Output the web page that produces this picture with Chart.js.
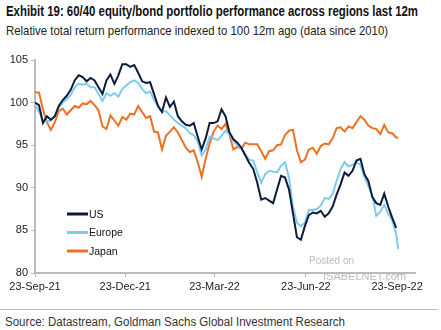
<!DOCTYPE html>
<html>
<head>
<meta charset="utf-8">
<script src="https://cdn.jsdelivr.net/npm/chart.js@4.4.1/dist/chart.umd.min.js"></script>
<style>
  body { margin: 0; background: #fff; }
  #wrap { position: relative; width: 441px; height: 330px; overflow: hidden; font-family: "Liberation Sans", Arial, sans-serif; }
  .fit { position: absolute; white-space: nowrap; transform-origin: 0 0; }
  #title { left: 6px; top: 3px; font-size: 14.5px; font-weight: bold; color: #111; }
  #subtitle { left: 6px; top: 23px; font-size: 13.5px; color: #222; }
  #chartBox { position: absolute; left: 0; top: 50px; width: 441px; height: 250px; }
  #rule { position: absolute; left: 0; top: 309px; width: 438px; height: 1px; background: #bbb; }
  #source { left: 5px; top: 315px; font-size: 12.5px; color: #333; }
  .wm { position: absolute; color: #b8bcc4; font-family: Arial, "Liberation Sans", sans-serif; white-space: nowrap; }
</style>
</head>
<body>
<div id="wrap">
  <div id="title" class="fit" data-w="412">Exhibit 19: 60/40 equity/bond portfolio performance across regions last 12m</div>
  <div id="subtitle" class="fit" data-w="382">Relative total return performance indexed to 100 12m ago (data since 2010)</div>
  <div id="chartBox"><canvas id="perfChart"></canvas></div>
  <div class="wm" style="left:309px; top:255px; font-size:10px;">Posted on</div>
  <div class="wm" style="left:323px; top:270px; font-size:11px;">ISABELNET.com</div>
  <div id="rule"></div>
  <div id="source" class="fit" data-w="340">Source: Datastream, Goldman Sachs Global Investment Research</div>
</div>
<script>
// squeeze header/footer text to the narrow width of the original
document.querySelectorAll('.fit').forEach(el => {
  const w = el.getBoundingClientRect().width;
  el.style.transform = 'scaleX(' + (el.dataset.w / w) + ')';
});

// days since 23-Sep-21, sampled roughly every 4 days
const days = [0, 4, 8, 12, 16, 20, 24, 28, 32, 36, 40, 44, 48, 52, 56, 60, 64, 68, 72, 76,
  80, 84, 88, 92, 96, 100, 104, 108, 112, 116, 120, 124, 128, 132, 136, 140, 144, 148, 152, 156,
  160, 164, 168, 172, 176, 180, 184, 188, 192, 196, 200, 204, 208, 212, 216, 220, 224, 228, 232, 236,
  240, 244, 248, 252, 256, 260, 264, 268, 272, 276, 280, 284, 288, 292, 296, 300, 304, 308, 312, 316,
  320, 324, 328, 332, 336, 340, 344, 348, 352, 356, 360, 364, 366];

const usValues = [100.0, 99.7, 97.6, 98.4, 98.0, 98.4, 99.6, 100.3, 100.8, 101.5,
  102.6, 103.2, 103.0, 102.5, 102.9, 102.6, 101.8, 101.0, 102.6, 103.3,
  102.2, 103.2, 104.5, 104.5, 104.2, 104.4, 103.5, 102.5, 102.3, 102.4,
  101.0, 99.6, 98.9, 100.6, 99.5, 100.1, 98.4, 97.8, 97.4, 97.3,
  97.6, 96.0, 94.5, 95.8, 97.6, 97.6, 97.8, 99.2, 98.4, 96.5,
  95.7, 95.3, 94.7, 93.8, 92.9, 92.2, 90.6, 88.6, 88.8, 88.5,
  88.2, 89.8, 91.4, 91.2, 89.8, 87.0, 84.2, 83.9, 85.5, 86.8,
  87.1, 87.0, 87.3, 86.6, 87.0, 87.8, 89.2, 90.4, 91.8, 91.4,
  92.0, 93.2, 93.4, 91.6, 90.8, 88.9, 88.2, 88.0, 89.3, 87.8,
  86.5, 85.3, null];

const europeValues = [99.7, 99.0, 97.8, 97.8, 97.9, 98.4, 99.4, 100.0, 100.4, 100.9,
  101.8, 102.2, 102.1, 102.2, 101.8, 101.8, 101.0, 100.2, 101.1, 100.8,
  101.1, 100.7, 101.6, 102.0, 102.4, 102.6, 102.3, 101.6, 101.1, 101.3,
  100.3, 99.6, 98.9, 99.0, 98.5, 98.0, 97.6, 97.3, 97.0, 96.4,
  96.2, 95.4, 93.8, 94.5, 96.0, 95.8, 95.6, 96.1, 96.7, 96.3,
  95.5, 95.0, 94.6, 93.9, 93.3, 93.2, 91.8, 90.6, 91.6, 92.0,
  91.9, 91.8, 92.6, 93.0, 91.2, 87.8, 85.9, 85.5, 85.9, 87.4,
  87.4, 87.5, 87.9, 88.8, 88.7, 89.3, 90.8, 92.2, 93.0, 92.5,
  92.7, 93.0, 92.7, 91.3, 90.2, 89.1, 86.7, 87.2, 88.0, 87.0,
  86.2, 84.6, 82.8];

const japanValues = [101.2, 101.2, 99.2, 97.7, 96.8, 97.7, 99.0, 99.3, 98.6, 99.1,
  99.6, 99.4, 99.9, 99.8, 100.2, 99.7, 99.1, 97.2, 96.9, 98.5,
  97.9, 97.3, 98.3, 98.0, 98.7, 98.6, 99.6, 98.9, 98.2, 98.4,
  96.6, 96.5, 94.5, 96.1, 96.6, 97.1, 96.5, 95.6, 94.7, 94.2,
  94.4, 93.0, 91.3, 93.4, 95.2, 96.6, 97.3, 96.9, 97.5, 96.2,
  94.5, 94.8, 94.6, 95.3, 95.1, 95.1, 95.1, 94.3, 93.4, 94.3,
  94.4, 95.0, 95.1, 96.2, 96.7, 96.8, 94.4, 93.0, 93.3, 94.5,
  94.7, 94.0, 94.9, 95.2, 95.1, 95.8, 97.0, 97.1, 96.6, 97.2,
  97.0, 97.7, 98.4, 98.0, 97.3, 97.0, 96.9, 96.3, 97.4, 96.5,
  96.4, 95.9, 95.9];

const tickDays = [0, 91, 181, 273, 365];
const tickLabels = ['23-Sep-21', '23-Dec-21', '23-Mar-22', '23-Jun-22', '23-Sep-22'];

function toPoints(values) {
  return days.map((d, i) => ({ x: d, y: values[i] }));
}

// legend drawn inside the plot area, lower left
const insideLegend = {
  id: 'insideLegend',
  afterDatasetsDraw(chart) {
    const ctx = chart.ctx;
    const x0 = 67, y0 = 164, gap = 18.5;
    ctx.save();
    ctx.font = '10.5px Arial, "Liberation Sans", sans-serif';
    ctx.textBaseline = 'middle';
    chart.data.datasets.forEach((ds, i) => {
      const y = y0 + i * gap;
      ctx.strokeStyle = ds.borderColor;
      ctx.lineWidth = 3;
      ctx.beginPath();
      ctx.moveTo(x0, y);
      ctx.lineTo(x0 + 21, y);
      ctx.stroke();
      ctx.fillStyle = '#111';
      ctx.fillText(ds.label, x0 + 22, y + 1);
    });
    ctx.restore();
  }
};

const tickFont = { family: 'Arial, "Liberation Sans", sans-serif', size: 11 };

new Chart(document.getElementById('perfChart'), {
  type: 'line',
  data: {
    datasets: [
      { label: 'US', data: toPoints(usValues), borderColor: '#0c1c3a', borderWidth: 2, order: 0 },
      { label: 'Europe', data: toPoints(europeValues), borderColor: '#7fcbef', borderWidth: 2, order: 1 },
      { label: 'Japan', data: toPoints(japanValues), borderColor: '#ee7023', borderWidth: 2, order: 2 }
    ]
  },
  options: {
    responsive: true,
    maintainAspectRatio: false,
    animation: false,
    elements: { point: { radius: 0 }, line: { tension: 0 } },
    layout: { padding: { left: 0, right: 26, top: 10, bottom: 0 } },
    plugins: { legend: { display: false }, tooltip: { enabled: false } },
    scales: {
      x: {
        type: 'linear',
        min: 0,
        max: 383,
        afterFit(scale) { scale.height = 27; },
        afterBuildTicks(scale) { scale.ticks = tickDays.map(v => ({ value: v })); },
        grid: { drawOnChartArea: false, drawTicks: true, tickLength: 4, color: '#bbb' },
        border: { color: '#bbb', width: 2 },
        ticks: {
          autoSkip: false,
          maxRotation: 0,
          padding: 3,
          color: '#222',
          font: tickFont,
          callback: (v) => tickLabels[tickDays.indexOf(v)]
        }
      },
      y: {
        min: 80,
        max: 105,
        afterFit(scale) { scale.width = 35; },
        grid: { drawOnChartArea: false, drawTicks: true, tickLength: 4, color: '#bbb' },
        border: { color: '#bbb', width: 2 },
        ticks: {
          stepSize: 5,
          padding: 3,
          color: '#222',
          font: tickFont
        }
      }
    }
  },
  plugins: [insideLegend]
});
</script>
</body>
</html>
